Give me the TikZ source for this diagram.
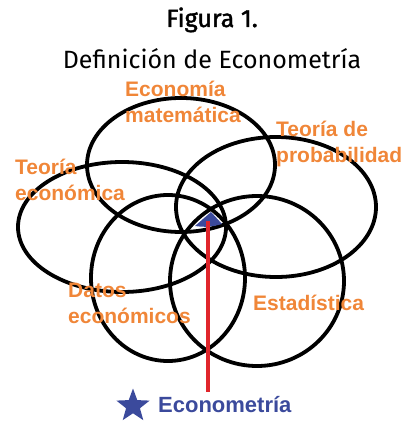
\documentclass[tikz,border=0pt]{standalone}
\usepackage{fontspec}
\setmainfont{Fira Sans}
\newfontfamily\arialfont{Liberation Sans}
\newfontfamily\figfont{Fira Sans}[FakeBold=1.6]
\usetikzlibrary{shapes.geometric}
\definecolor{fieldorange}{RGB}{240,134,56}
\definecolor{econblue}{RGB}{59,74,156}
\definecolor{linkred}{RGB}{224,37,43}

\begin{document}
\begin{tikzpicture}[x=1pt,y=-1pt,
        ring/.style={line width=3.8pt},
        field/.style={anchor=base west,inner sep=0pt,align=left,text=fieldorange,
            font=\arialfont\bfseries\fontsize{21}{26}\selectfont}]
        \useasboundingbox (0,0) rectangle (410,425);
        % title
        \node (fig) [anchor=base,inner sep=0pt,font=\figfont\fontsize{25}{28}\selectfont] at (212,27) {Figura 1.};
        \node (title) [anchor=base,inner sep=0pt,font=\fontsize{25}{28}\selectfont] at (212,69) {Definición de Econometría};
        % the five fields
        \draw [ring] (181,165) ellipse [x radius=94,y radius=67];
        \draw [ring] (276,207) ellipse [x radius=100,y radius=70];
        \draw [ring] (122,227) ellipse [x radius=104,y radius=65];
        \draw [ring] (168,278) ellipse [x radius=77,y radius=83];
        \draw [ring] (257,281) ellipse [x radius=87,y radius=85];
        \node (ecmat) [field] at (125,122) {Economía\\matemática};
        \node (tprob) [field] at (276,162) {Teoría de\\probabilidad};
        \node (teco) [field] at (15,200) {Teoría\\económica};
        \node (datos) [field] at (68,323) {Datos\\económicos};
        \node (estad) [field] at (253,310) {Estadística};
        % common part and pointer
        \fill [econblue] (195,226) -- (211,212) -- (222,224) to [bend left=12] cycle;
        \coordinate (inter) at (208,221);
        \coordinate (foot) at (208,392);
        \draw [linkred,line width=3.5pt] (inter) -- (foot);
        \node (star) [star,star points=5,star point ratio=2.4,fill=econblue,minimum size=35pt,inner sep=0pt] at (133,406) {};
        \node (econ) [anchor=base west,inner sep=0pt,text=econblue,font=\arialfont\bfseries\fontsize{22}{24}\selectfont] at (158,412) {Econometría};
    \end{tikzpicture}
\end{document}
